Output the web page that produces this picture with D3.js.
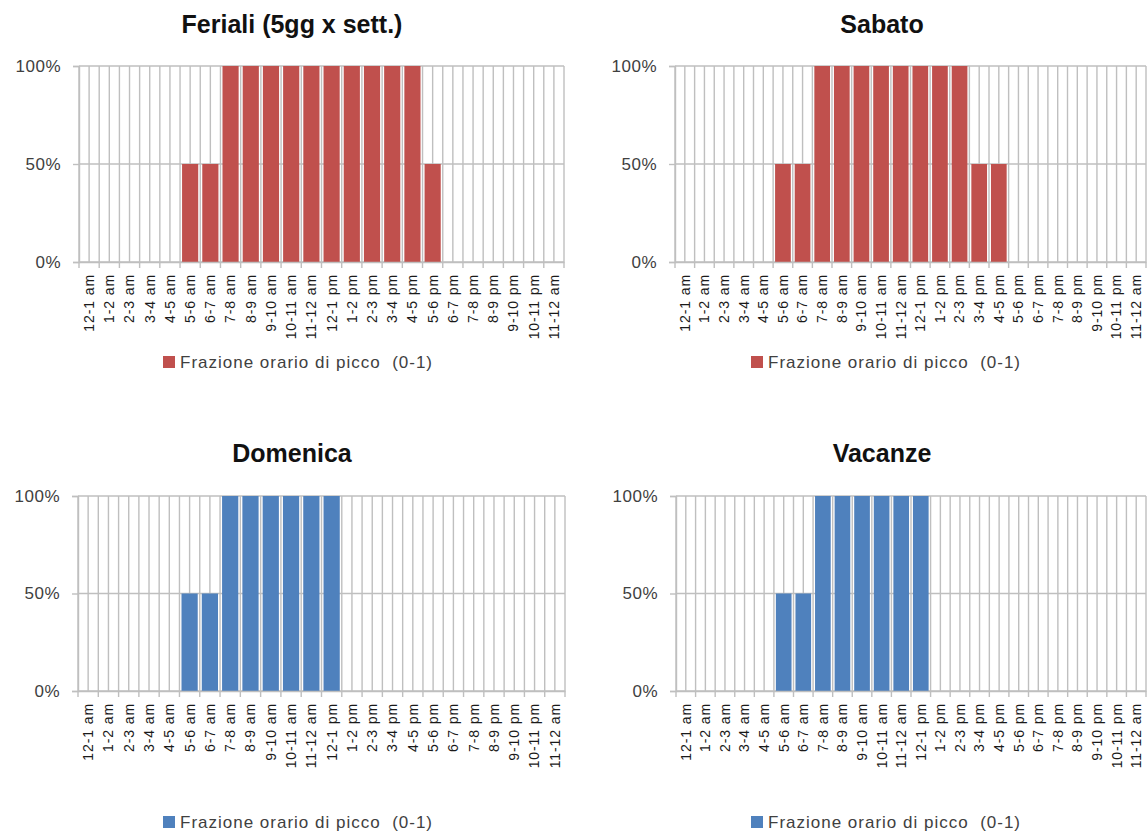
<!DOCTYPE html>
<html>
<head>
<meta charset="utf-8">
<script src="https://cdn.jsdelivr.net/npm/d3@7"></script>
<style>
  html, body { margin: 0; padding: 0; background: #fff; }
  svg { display: block; }
</style>
</head>
<body>
<svg id="chart" width="1148" height="835"></svg>
<script>
// ---------- data ----------
const hours = ["12-1 am","1-2 am","2-3 am","3-4 am","4-5 am","5-6 am","6-7 am","7-8 am","8-9 am","9-10 am","10-11 am","11-12 am",
               "12-1 pm","1-2 pm","2-3 pm","3-4 pm","4-5 pm","5-6 pm","6-7 pm","7-8 pm","8-9 pm","9-10 pm","10-11 pm","11-12 am"];
const yTicks = [0, 0.5, 1];
const seriesName = "Frazione orario di picco  (0-1)";
const titles = ["Feriali (5gg x sett.)", "Sabato", "Domenica", "Vacanze"];
const ferialiValues  = [0,0,0,0,0,0.5,0.5,1,1,1,1,1,1,1,1,1,1,0.5,0,0,0,0,0,0];
const sabatoValues   = [0,0,0,0,0,0.5,0.5,1,1,1,1,1,1,1,1,0.5,0.5,0,0,0,0,0,0,0];
const domenicaValues = [0,0,0,0,0,0.5,0.5,1,1,1,1,1,1,0,0,0,0,0,0,0,0,0,0,0];
const vacanzeValues  = [0,0,0,0,0,0.5,0.5,1,1,1,1,1,1,0,0,0,0,0,0,0,0,0,0,0];
const colors = ["#C0504D", "#C0504D", "#4F81BD", "#4F81BD"];

// ---------- layout ----------
const panels = [
  { x0: 79,  x1: 564,  yT: 66,  yB: 262, tx: 292, ty: 33,  ly: 362, lx: 163 },
  { x0: 675, x1: 1146, yT: 66,  yB: 262, tx: 882, ty: 33,  ly: 362, lx: 751 },
  { x0: 78,  x1: 565,  yT: 496, yB: 691, tx: 292, ty: 462, ly: 822, lx: 163 },
  { x0: 676, x1: 1146, yT: 496, yB: 691, tx: 882, ty: 462, ly: 822, lx: 751 }
];
const allValues = [ferialiValues, sabatoValues, domenicaValues, vacanzeValues];

const svg = d3.select("#chart");
const FONT = "'Liberation Sans', 'DejaVu Sans', sans-serif";
const GRID = "#BFBFBF";
const idx = d3.range(hours.length);

panels.forEach((p, i) => {
  const vals = allValues[i];
  const g = svg.append("g");

  const x = d3.scaleBand().domain(idx).range([p.x0, p.x1]).paddingInner(0.2).paddingOuter(0.1);
  const xLin = d3.scaleLinear().domain([0, hours.length]).range([p.x0, p.x1]);
  const y = d3.scaleLinear().domain([0, 1]).range([p.yB, p.yT]);

  // vertical gridlines (major at boundaries, minor at centers)
  const vLines = d3.range(0, hours.length + 0.01, 0.5);
  g.append("g").selectAll("line").data(vLines).join("line")
    .attr("x1", d => xLin(d)).attr("x2", d => xLin(d))
    .attr("y1", p.yT).attr("y2", p.yB)
    .attr("stroke", GRID).attr("stroke-width", 1.4);

  // horizontal gridlines
  g.append("g").selectAll("line").data(yTicks).join("line")
    .attr("x1", p.x0).attr("x2", p.x1)
    .attr("y1", d => y(d)).attr("y2", d => y(d))
    .attr("stroke", GRID).attr("stroke-width", 1.4);

  // bars
  g.append("g").selectAll("rect").data(idx.map(k => ({ k, v: vals[k] })).filter(d => d.v > 0)).join("rect")
    .attr("x", d => x(d.k)).attr("width", x.bandwidth())
    .attr("y", d => y(d.v)).attr("height", d => y(0) - y(d.v))
    .attr("fill", colors[i]);

  // y axis
  const yAxis = d3.axisLeft(y).tickValues(yTicks).tickFormat(d3.format(".0%")).tickSize(6).tickPadding(12);
  const ya = g.append("g").attr("transform", `translate(${p.x0},0)`).call(yAxis);
  ya.select(".domain").attr("stroke", GRID).attr("stroke-width", 1.4);
  ya.selectAll(".tick line").attr("stroke", GRID).attr("stroke-width", 1.4);
  ya.selectAll(".tick text").attr("font-family", FONT).attr("font-size", 17)
    .attr("letter-spacing", 0.5).attr("fill", "#404040");

  // x axis
  const xAxis = d3.axisBottom(x).tickSize(0).tickPadding(0).tickFormat(k => hours[k]);
  const xa = g.append("g").attr("transform", `translate(0,${p.yB})`).call(xAxis);
  xa.select(".domain").attr("stroke", GRID).attr("stroke-width", 1.4);
  xa.selectAll(".tick text")
    .attr("font-family", FONT).attr("font-size", 14).attr("letter-spacing", 0.9).attr("fill", "#1a1a1a")
    .attr("transform", "rotate(-90)")
    .attr("text-anchor", "end")
    .attr("x", -12).attr("y", 0).attr("dy", "0.35em");
  // tick marks at category boundaries
  g.append("g").selectAll("line").data(d3.range(0, hours.length + 1)).join("line")
    .attr("x1", d => xLin(d)).attr("x2", d => xLin(d))
    .attr("y1", p.yB).attr("y2", p.yB + 6)
    .attr("stroke", GRID).attr("stroke-width", 1.4);

  // title
  g.append("text").attr("x", p.tx).attr("y", p.ty).attr("text-anchor", "middle")
    .attr("font-family", FONT).attr("font-weight", "bold").attr("font-size", 25).attr("fill", "#111")
    .text(titles[i]);

  // legend
  g.append("rect").attr("x", p.lx).attr("y", p.ly - 6).attr("width", 12).attr("height", 12).attr("fill", colors[i]);
  g.append("text").attr("x", p.lx + 17).attr("y", p.ly).attr("dy", "0.35em")
    .attr("font-family", FONT).attr("font-size", 17).attr("letter-spacing", 1).attr("fill", "#404040")
    .attr("xml:space", "preserve")
    .text(seriesName);
});
</script>
</body>
</html>
